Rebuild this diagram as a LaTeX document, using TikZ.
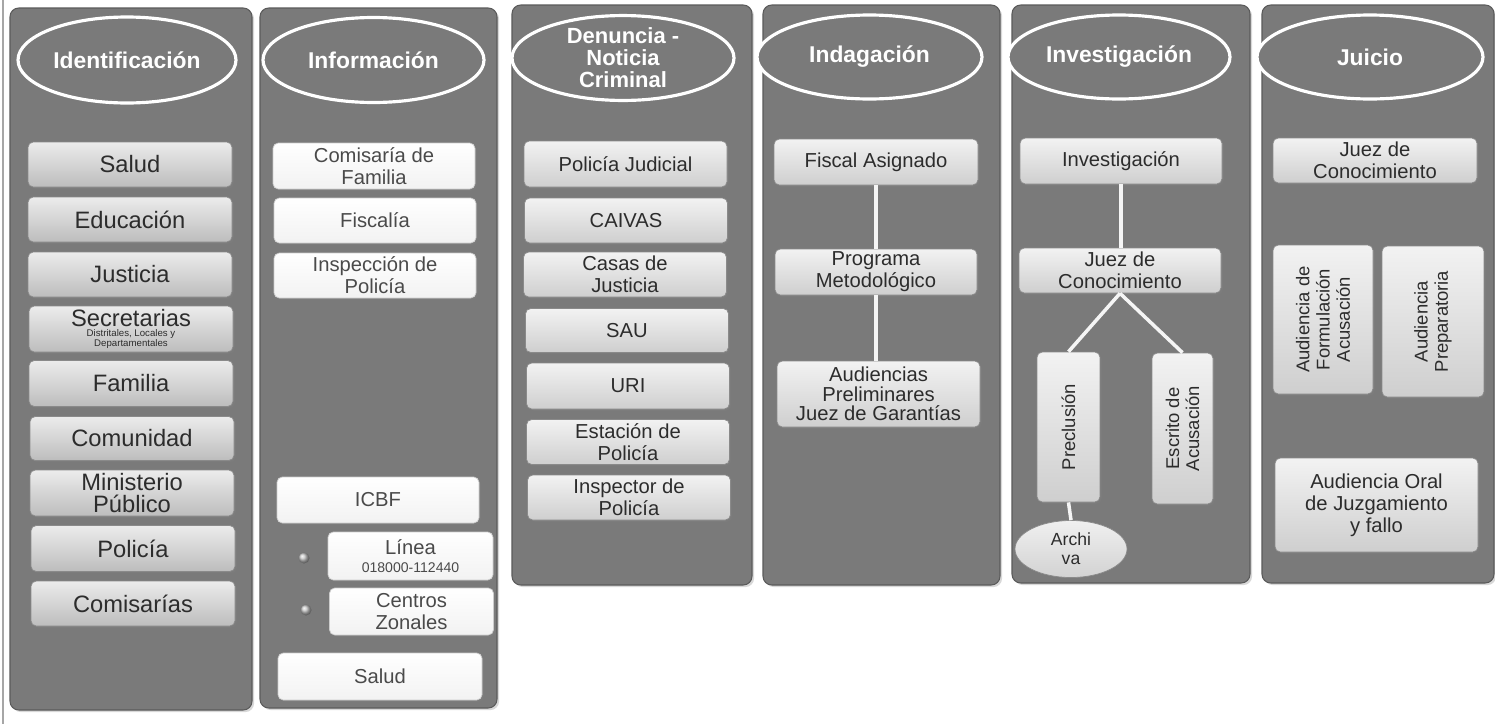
\documentclass[tikz,border=0pt]{standalone}
\usepackage{fontspec}
\setmainfont{Liberation Sans}
\usetikzlibrary{shapes.geometric,shadows}
\definecolor{colbg}{HTML}{7A7A7A}
\definecolor{colbd}{HTML}{5A5A5A}
\definecolor{txtc}{HTML}{2C2C2C}
\definecolor{txtl}{HTML}{4A4A4A}
\definecolor{boxbd}{HTML}{8A8A8A}
\newcommand\myfA{\fontsize{13.5}{15}\selectfont}
\newcommand\myfB{\fontsize{11.5}{12.5}\selectfont}
\newcommand\myfC{\fontsize{10.5}{11.5}\selectfont}
\newcommand\myfS{\fontsize{5.5}{5.8}\selectfont}
\begin{document}
\begin{tikzpicture}[x=0.02cm,y=-0.02cm,
  sz/.style 2 args={minimum width=#1*0.02cm, minimum height=#2*0.02cm},
  panel/.style={draw=colbd, fill=colbg, rounded corners=5pt, line width=0.6pt, inner sep=0pt,
    drop shadow={opacity=0.3, shadow xshift=1.2pt, shadow yshift=-1.2pt}},
  hdr/.style={ellipse, draw=white, line width=1.8pt, fill=colbg, text=white,
    font=\bfseries\fontsize{13}{15}\selectfont, align=center, inner sep=0pt},
  basebox/.style={rectangle, rounded corners=3pt, draw=boxbd, line width=0.4pt, align=center,
    inner sep=1pt, drop shadow={opacity=0.35, shadow xshift=1pt, shadow yshift=-1pt}},
  boxA/.style={basebox, top color=gray!15, bottom color=gray!52, text=txtc, font=\myfA},
  boxB/.style={basebox, top color=white, bottom color=gray!10, draw=gray!40, text=txtl, font=\myfB},
  boxC/.style={basebox, top color=gray!10, bottom color=gray!38, text=txtc, font=\myfB},
  boxV/.style={basebox, top color=gray!10, bottom color=gray!38, text=txtc, font=\myfC, rotate=90},
  bullet/.style={circle, inner sep=0pt, minimum size=11*0.02cm, ball color=gray!45},
  conn/.style={draw=gray!8, line width=2pt},
  archst/.style={ellipse, inner sep=0pt, top color=gray!12, bottom color=gray!35, draw=boxbd,
    line width=0.4pt, text=txtc, font=\fontsize{10}{11}\selectfont, align=center}
]
\useasboundingbox (0,0) rectangle (1495,724);
\fill[white] (0,0) rectangle (1495,724);
\draw[gray!70, line width=0.8pt] (3,0) -- (3,724);

% panels
\node[panel, sz={242}{702}] (p1) at (131,359) {};
\node[panel, sz={237}{700}] (p2) at (378.5,358) {};
\node[panel, sz={240}{580}] (p3) at (632,295) {};
\node[panel, sz={237}{580}] (p4) at (881.5,295) {};
\node[panel, sz={238}{578}] (p5) at (1131,294) {};
\node[panel, sz={232}{578}] (p6) at (1378,294) {};

% headers
\node[hdr, sz={218}{86}] (h1) at (127,60) {Identificación};
\node[hdr, sz={221}{85}] (h2) at (373.5,60) {Información};
\node[hdr, sz={222}{84}, font=\bfseries\fontsize{12.5}{12.5}\selectfont] (h3) at (623,58) {Denuncia -\\Noticia\\Criminal};
\node[hdr, sz={225}{84}] (h4) at (869.5,57) {Indagación};
\node[hdr, sz={222}{84}] (h5) at (1119,57) {Investigación};
\node[hdr, sz={226}{84}] (h6) at (1370,57) {Juicio};

% column 1
\node[boxA, sz={204}{45}] (a1) at (130,164.5) {Salud};
\node[boxA, sz={204}{45}] (a2) at (130,219.5) {Educación};
\node[boxA, sz={204}{45}] (a3) at (130,274.5) {Justicia};
\node[boxA, sz={204}{46}] (a4) at (131,329) {Secretarias\\[-9pt]\parbox[t]{3.2cm}{\centering\myfS Distritales, Locales y\\Departamentales}};
\node[boxA, sz={204}{46}] (a5) at (131,383.5) {Familia};
\node[boxA, sz={204}{44}] (a6) at (132,438.5) {Comunidad};
\node[boxA, sz={204}{46}, font=\fontsize{13.5}{13}\selectfont] (a7) at (132,493) {Ministerio\\Público};
\node[boxA, sz={204}{46}] (a8) at (133,548.5) {Policía};
\node[boxA, sz={204}{45}] (a9) at (133,603.5) {Comisarías};

% column 2
\node[boxB, sz={202}{46}] (b1) at (374,166) {Comisaría de\\Familia};
\node[boxB, sz={202}{45}] (b2) at (375,220.5) {Fiscalía};
\node[boxB, sz={202}{45}] (b3) at (375,275.5) {Inspección de\\Policía};
\node[boxB, sz={202}{46}] (b4) at (378,500) {ICBF};
\node[bullet] (d1) at (304,558) {};
\node[boxB, sz={165}{48}] (b5) at (410.5,556) {Línea\\[-2pt]{\fontsize{8}{9}\selectfont 018000-112440}};
\node[bullet] (d2) at (306,610) {};
\node[boxB, sz={164}{47}] (b6) at (411.5,611.5) {Centros\\Zonales};
\node[boxB, sz={204}{47}] (b7) at (380,676.5) {Salud};

% column 3
\node[boxC, sz={203}{46}] (c1) at (625.5,164) {Policía Judicial};
\node[boxC, sz={203}{45}] (c2) at (626,220.5) {CAIVAS};
\node[boxC, sz={203}{45}] (c3) at (625,274.5) {Casas de\\Justicia};
\node[boxC, sz={203}{44}] (c4) at (627,330.5) {SAU};
\node[boxC, sz={203}{46}] (c5) at (628,386) {URI};
\node[boxC, sz={203}{45}] (c6) at (628,442) {Estación de\\Policía};
\node[boxC, sz={203}{45}] (c7) at (629,497.5) {Inspector de\\Policía};

% column 4
\node[boxC, sz={204}{46}] (e1) at (876,162) {Fiscal Asignado};
\node[boxC, sz={202}{46}] (e2) at (876,272) {Programa\\Metodológico};
\node[boxC, sz={203}{66}, font=\fontsize{11.5}{11}\selectfont] (e3) at (878.5,394) {Audiencias\\Preliminares\\Juez de Garantías};
\draw[conn] (e1.south) -- (e2.north);
\draw[conn] (e2.south) -- (e2.south |- e3.north);

% column 5
\node[boxC, sz={202}{46}] (f1) at (1121,161) {Investigación};
\node[boxC, sz={202}{45}] (f2) at (1120,270.5) {Juez de\\Conocimiento};
\node[boxV, sz={150}{63}] (f3) at (1068.5,427) {Preclusión};
\node[boxV, sz={151}{61}] (f4) at (1182.5,428.5) {Escrito de\\Acusación};
\node[archst, sz={112}{57}] (f5) at (1071,549) {Archi\\va};
\draw[conn] (f1.south) -- (f1.south |- f2.north);
\draw[conn] (f2.south) -- (f3.east);
\draw[conn] (f2.south) -- (f4.east);
\draw[conn] (f3.west) -- (f5.north);

% column 6
\node[boxC, sz={204}{45}] (g1) at (1375,160.5) {Juez de\\Conocimiento};
\node[boxV, sz={149}{100}] (g2) at (1323,319.5) {Audiencia de\\Formulación\\Acusación};
\node[boxV, sz={151}{102}] (g3) at (1433,321.5) {Audiencia\\Preparatoria};
\node[boxC, sz={203}{94}] (g4) at (1376.5,505) {Audiencia Oral\\de Juzgamiento\\y fallo};
\end{tikzpicture}
\end{document}
